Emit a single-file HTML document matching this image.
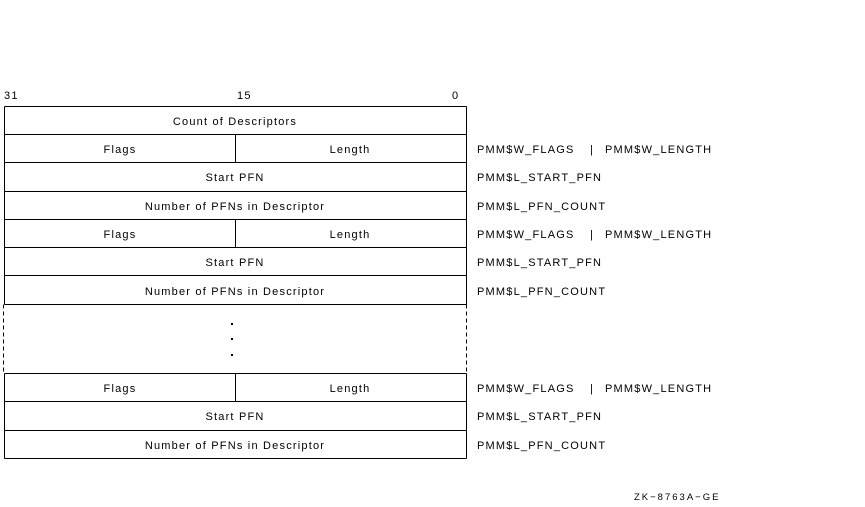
<!DOCTYPE html>
<html><head><meta charset="utf-8"><style>
html,body{margin:0;padding:0;background:#fff;}
svg{display:block;}
text{font-family:"Liberation Sans",sans-serif;font-size:11px;fill:#000;letter-spacing:1.2px;}
</style></head><body>
<svg width="865" height="507" xmlns="http://www.w3.org/2000/svg">
<g stroke="#000" stroke-width="1" fill="none" shape-rendering="crispEdges">
<line x1="4.5" y1="106.5" x2="466.5" y2="106.5"/>
<line x1="4.5" y1="106.5" x2="4.5" y2="304.5"/>
<line x1="466.5" y1="106.5" x2="466.5" y2="304.5"/>
<line x1="4.5" y1="134.5" x2="466.5" y2="134.5"/>
<line x1="4.5" y1="162.5" x2="466.5" y2="162.5"/>
<line x1="4.5" y1="191.5" x2="466.5" y2="191.5"/>
<line x1="4.5" y1="219.5" x2="466.5" y2="219.5"/>
<line x1="4.5" y1="247.5" x2="466.5" y2="247.5"/>
<line x1="4.5" y1="275.5" x2="466.5" y2="275.5"/>
<line x1="4.5" y1="304.5" x2="466.5" y2="304.5"/>
<line x1="235.5" y1="134.5" x2="235.5" y2="162.5"/>
<line x1="235.5" y1="219.5" x2="235.5" y2="247.5"/>
<line x1="3.5" y1="304.5" x2="3.5" y2="373.5" stroke-dasharray="4,3"/>
<line x1="466.5" y1="304.5" x2="466.5" y2="373.5" stroke-dasharray="4,3"/>
<line x1="4.5" y1="373.5" x2="466.5" y2="373.5"/>
<line x1="4.5" y1="373.5" x2="4.5" y2="458.5"/>
<line x1="466.5" y1="373.5" x2="466.5" y2="458.5"/>
<line x1="4.5" y1="401.5" x2="466.5" y2="401.5"/>
<line x1="4.5" y1="430.5" x2="466.5" y2="430.5"/>
<line x1="4.5" y1="458.5" x2="466.5" y2="458.5"/>
<line x1="235.5" y1="373.5" x2="235.5" y2="401.5"/>
</g>
<rect x="231" y="323" width="2" height="2" fill="#000"/>
<rect x="231" y="338" width="2" height="2" fill="#000"/>
<rect x="231" y="354" width="2" height="2" fill="#000"/>
<text x="4" y="99">31</text>
<text x="237" y="99">15</text>
<text x="452" y="99">0</text>
<g text-anchor="middle">
<text x="235" y="125">Count of Descriptors</text>
<text x="120" y="153">Flags</text><text x="350" y="153">Length</text>
<text x="235" y="181">Start PFN</text>
<text x="235" y="210">Number of PFNs in Descriptor</text>
<text x="120" y="238">Flags</text><text x="350" y="238">Length</text>
<text x="235" y="266">Start PFN</text>
<text x="235" y="295">Number of PFNs in Descriptor</text>
<text x="120" y="392">Flags</text><text x="350" y="392">Length</text>
<text x="235" y="420">Start PFN</text>
<text x="235" y="449">Number of PFNs in Descriptor</text>
</g>
<g>
<text x="477" y="153">PMM$W_FLAGS</text><text x="590" y="153">|</text><text x="605" y="153">PMM$W_LENGTH</text>
<text x="477" y="181">PMM$L_START_PFN</text>
<text x="477" y="210">PMM$L_PFN_COUNT</text>
<text x="477" y="238">PMM$W_FLAGS</text><text x="590" y="238">|</text><text x="605" y="238">PMM$W_LENGTH</text>
<text x="477" y="266">PMM$L_START_PFN</text>
<text x="477" y="295">PMM$L_PFN_COUNT</text>
<text x="477" y="392">PMM$W_FLAGS</text><text x="590" y="392">|</text><text x="605" y="392">PMM$W_LENGTH</text>
<text x="477" y="420">PMM$L_START_PFN</text>
<text x="477" y="449">PMM$L_PFN_COUNT</text>
<text x="634" y="500" style="font-size:9.5px;letter-spacing:2px">ZK−8763A−GE</text>
</g>
</svg>
</body></html>
